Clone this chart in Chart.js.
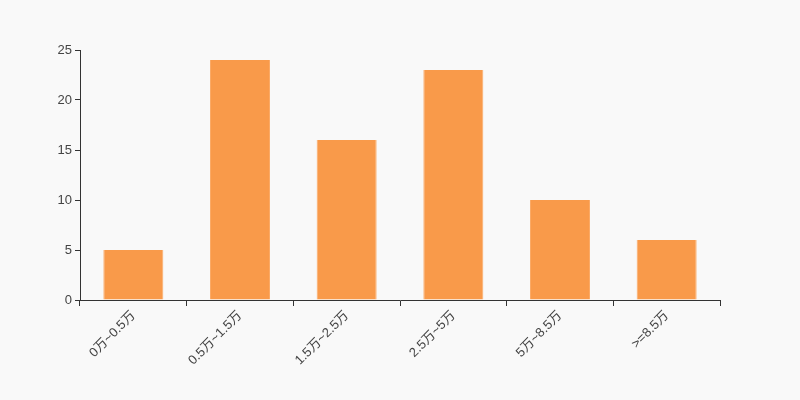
<!DOCTYPE html>
<html><head><meta charset="utf-8">
<script src="https://cdn.jsdelivr.net/npm/chart.js@4/dist/chart.umd.min.js"></script>
<style>html,body{margin:0;padding:0;background:#f9f9f9;}#wrap{width:800px;height:400px;}</style>
</head><body><div id="wrap"><canvas id="c" width="800" height="400"></canvas></div>
<script>
const categories = ["0万~0.5万","0.5万~1.5万","1.5万~2.5万","2.5万~5万","5万~8.5万",">=8.5万"];
const values = [5,24,16,23,10,6];
const yTicks = [0,5,10,15,20,25];
const FONT = "'Liberation Sans','Noto Sans CJK SC',sans-serif";
new Chart(document.getElementById('c'), {
  type: 'bar',
  data: { labels: categories, datasets: [{ data: values, backgroundColor: '#f99a4a', borderColor:'#fbaa66', borderWidth: {left:1,right:1,top:0,bottom:0}, barPercentage: 0.5625, categoryPercentage: 1 }] },
  options: {
    responsive: false, animation: false,
    layout: { padding: { top: 50, right: 80, left: 0, bottom: 0 } },
    plugins: { legend: { display: false }, tooltip: { enabled: false } },
    scales: {
      x: {
        grid: { display: true, drawOnChartArea: false, offset: true, color: '#333', tickLength: 6 },
        border: { display: true, color: '#333', width: 1 },
        ticks: { color: '#444', font: { family: FONT, size: 13 }, minRotation: 45, maxRotation: 45, padding: 2 },
        afterFit: s => { s.height = 100; }
      },
      y: {
        min: 0, max: 25,
        afterBuildTicks: s => { s.ticks = yTicks.map(v => ({ value: v })); },
        grid: { display: true, drawOnChartArea: false, color: '#333', tickLength: 5 },
        border: { display: true, color: '#333', width: 1 },
        ticks: { color: '#444', font: { family: FONT, size: 13 }, padding: 3 },
        afterFit: s => { s.width = 80; }
      }
    }
  }
});
</script></body></html>
